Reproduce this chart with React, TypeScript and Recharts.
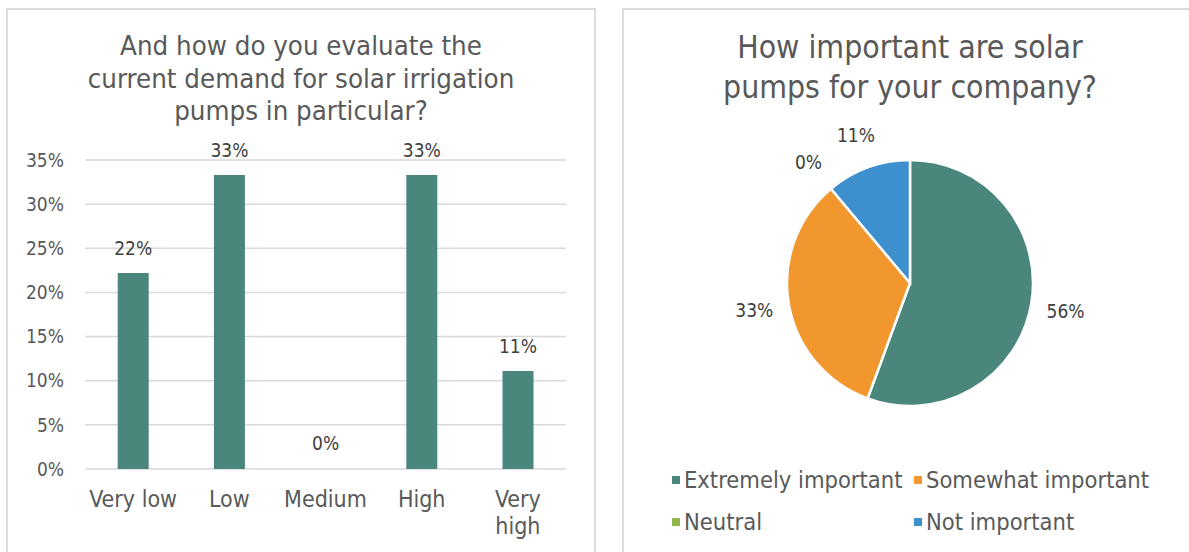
import React from "react";
import { Bar, BarChart, CartesianGrid, Cell, LabelList, Legend, Pie, PieChart, XAxis, YAxis } from "recharts";

// demand question (percent of respondents)
const demandLevels = ["Very low", "Low", "Medium", "High", "Very high"];
const demandShares = [22.2, 33.3, 0, 33.3, 11.1];
const demandTicks = [0, 5, 10, 15, 20, 25, 30, 35];

// importance question
const importanceLabels = ["Extremely important", "Somewhat important", "Neutral", "Not important"];
const importanceShares = [55.6, 33.3, 0, 11.1];
const importanceColors = ["#4A867B", "#F2962E", "#92B64E", "#3D8FCD"];

const FONT = "'DejaVu Sans Condensed', 'DejaVu Sans', sans-serif";
const TEXT = "#595959";

const barData = demandLevels.map((level, i) => ({ level, share: demandShares[i] }));
const pieData = importanceLabels.map((name, i) => ({ name, value: importanceShares[i] }));

const RADIAN = Math.PI / 180;

function WrapTick(props: any) {
    const { x, y, payload } = props;
    const label: string = payload.value;
    // long labels wrap onto two lines like in the sheet
    const lines = label.length > 8 ? label.split(" ") : [label];
    return (
        <text x={x} y={y} textAnchor="middle" fill={TEXT} fontSize={23} fontFamily={FONT}>
            {lines.map((ln, i) => (
                <tspan key={i} x={x} dy={i === 0 ? 30 : 27}>
                    {ln}
                </tspan>
            ))}
        </text>
    );
}

function PieLabel(props: any) {
    const { cx, cy, midAngle, outerRadius, value } = props;
    const r = outerRadius + 35;
    const x = cx + r * Math.cos(-midAngle * RADIAN);
    const y = cy + r * Math.sin(-midAngle * RADIAN);
    return (
        <text x={x} y={y} textAnchor="middle" dominantBaseline="central" fill="#404040" fontSize={19} fontFamily={FONT}>
            {`${Math.round(value)}%`}
        </text>
    );
}

function PieLegend(props: any) {
    const { payload } = props;
    return (
        <div style={{ display: "grid", gridTemplateColumns: "242px 270px", rowGap: 14 }}>
            {payload.map((entry: any) => (
                <div key={entry.value} style={{ display: "flex", alignItems: "center", fontSize: 23.5, color: TEXT, fontFamily: FONT, lineHeight: "28px", whiteSpace: "nowrap" }}>
                    <span style={{ width: 8, height: 8, background: entry.color, marginRight: 4, display: "inline-block" }} />
                    {entry.value}
                </div>
            ))}
        </div>
    );
}

export default function App() {
    const panel: React.CSSProperties = {
        position: "absolute",
        top: 8,
        height: 570,
        border: "2px solid #DCDCDC",
        boxSizing: "border-box",
        background: "#fff",
    };
    const title: React.CSSProperties = {
        position: "absolute",
        textAlign: "center",
        color: TEXT,
        fontFamily: FONT,
    };

    return (
        <div style={{ position: "absolute", left: 0, top: 0, width: 1189, height: 552, overflow: "hidden", background: "#fff" }}>
            <div style={{ ...panel, left: 6, width: 590 }} />
            <div style={{ ...panel, left: 622, width: 600 }} />

            <div style={{ ...title, left: 6, width: 590, top: 30, fontSize: 27.4, lineHeight: "32.5px" }}>
                And how do you evaluate the
                <br />
                current demand for solar irrigation
                <br />
                pumps in particular?
            </div>

            <div style={{ ...title, left: 622, width: 576, top: 27, fontSize: 31.7, lineHeight: "40px" }}>
                How important are solar
                <br />
                pumps for your company?
            </div>

            <div style={{ position: "absolute", left: 0, top: 0 }}>
                <BarChart width={600} height={552} data={barData} margin={{ top: 160, right: 34, bottom: 23, left: 0 }} barCategoryGap="34%">
                    <CartesianGrid vertical={false} stroke="#D9D9D9" strokeWidth={1.5} />
                    <XAxis dataKey="level" axisLine={false} tickLine={false} height={60} tick={<WrapTick />} interval={0} />
                    <YAxis
                        width={85}
                        domain={[0, 35]}
                        ticks={demandTicks}
                        tickFormatter={(v: number) => `${v}%`}
                        axisLine={false}
                        tickLine={false}
                        tickSize={0}
                        tickMargin={21}
                        tick={{ fill: TEXT, fontSize: 19, fontFamily: FONT }}
                    />
                    <Bar dataKey="share" fill="#4A867B" minPointSize={1} isAnimationActive={false}>
                        {barData.map((d) => (
                            // zero bars stay invisible but keep their data label
                            <Cell key={d.level} fill={d.share === 0 ? "transparent" : "#4A867B"} />
                        ))}
                        <LabelList
                            dataKey="share"
                            position="top"
                            offset={18}
                            formatter={(v: any) => `${Math.round(Number(v))}%`}
                            style={{ fill: "#404040", fontSize: 19, fontFamily: FONT }}
                        />
                    </Bar>
                </BarChart>
            </div>

            <div style={{ position: "absolute", left: 622, top: 8 }}>
                <PieChart width={567} height={544}>
                    <Pie
                        data={pieData}
                        dataKey="value"
                        nameKey="name"
                        cx={283}
                        cy={270}
                        outerRadius={123}
                        startAngle={90}
                        endAngle={-270}
                        stroke="#fff"
                        strokeWidth={2.5}
                        label={<PieLabel />}
                        labelLine={false}
                        isAnimationActive={false}
                    >
                        {pieData.map((d, i) => (
                            <Cell key={d.name} fill={importanceColors[i]} />
                        ))}
                    </Pie>
                    <Legend
                        content={<PieLegend />}
                        itemSorter={null as any}
                        wrapperStyle={{ position: "absolute", left: 50, top: 458, width: 530 }}
                    />
                </PieChart>
            </div>
        </div>
    );
}
